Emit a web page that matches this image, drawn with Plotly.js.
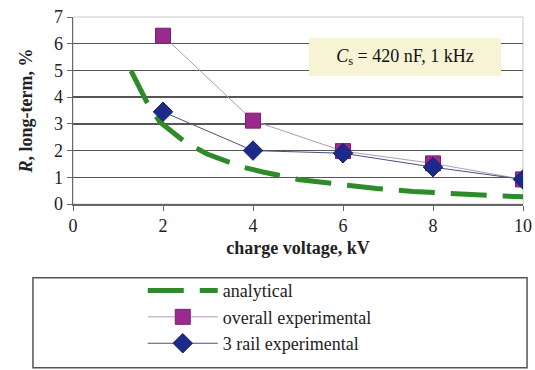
<!DOCTYPE html>
<html>
<head>
<meta charset="utf-8">
<script src="https://cdn.plot.ly/plotly-3.0.1.min.js"></script>
<style>html,body{margin:0;padding:0;background:#fff;}#chart{width:535px;height:370px;}</style>
</head>
<body>
<div id="chart"></div>
<script>
// Analytical curve
const analyticalX = [1.29, 1.64, 1.93, 2.49, 2.98, 3.75, 4.22, 5.0, 5.49, 6.27, 6.75, 7.56, 8.0, 8.82, 9.27, 10];
const analyticalY = [4.98, 3.82, 3.07, 2.32, 1.87, 1.39, 1.20, 0.92, 0.82, 0.66, 0.58, 0.47, 0.42, 0.36, 0.32, 0.27];
// Experimental series
const voltage = [2, 4, 6, 8, 10];
const overallExp = [6.3, 3.12, 1.98, 1.52, 0.92];
const rail3Exp = [3.45, 2.0, 1.9, 1.38, 0.92];
const xTicks = [0, 2, 4, 6, 8, 10];
const yTicks = [0, 1, 2, 3, 4, 5, 6, 7];
const names = ['analytical', 'overall experimental', '3 rail experimental'];

const serif = 'Liberation Serif, Times New Roman, serif';

const traces = [
  {x: analyticalX, y: analyticalY, name: names[0], mode: 'lines', line: {color: '#2f8a2a', width: 5, dash: '36px,16px'}},
  {x: voltage, y: overallExp, name: names[1], mode: 'lines+markers', line: {color: '#b49ab8', width: 1}, marker: {symbol: 'square', size: 15, color: '#9a2a8e', line: {color: '#7a2070', width: 1}}},
  {x: voltage, y: rail3Exp, name: names[2], mode: 'lines+markers', line: {color: '#4a5080', width: 1}, marker: {symbol: 'diamond', size: 15, color: '#1c2a8a', line: {color: '#15206a', width: 1}}}
];

const layout = {
  width: 535, height: 370,
  margin: {l: 73, r: 12, t: 17, b: 166, autoexpand: false},
  paper_bgcolor: '#ffffff', plot_bgcolor: '#ffffff',
  font: {family: serif, color: '#222', size: 17},
  showlegend: true,
  legend: {x: 0.155, xanchor: 'left', y: -0.365, yanchor: 'top', bgcolor: 'rgba(0,0,0,0)', borderwidth: 0,
           font: {family: serif, size: 18, color: '#222'}, itemwidth: 70, tracegroupgap: 0},
  xaxis: {range: [0, 10], tickvals: xTicks, ticktext: xTicks.map(String), showgrid: false, zeroline: false, automargin: false,
          showline: true, linecolor: '#666', linewidth: 1.5, ticks: 'outside', ticklen: 5, tickcolor: '#666',
          tickfont: {family: serif, size: 18, color: '#222'},
          title: {text: '<b>charge voltage, kV</b>', font: {family: serif, size: 18, color: '#222'}, standoff: 6}},
  yaxis: {range: [0, 7], tickvals: yTicks, ticktext: yTicks.map(String), showgrid: true, gridcolor: '#555', gridwidth: 1.5, automargin: false,
          zeroline: false, showline: true, linecolor: '#666', linewidth: 1.5, ticks: 'outside', ticklen: 5, tickcolor: '#666',
          tickfont: {family: serif, size: 18, color: '#222'},
          title: {text: '<b><i>R</i>, long-term, %</b>', font: {family: serif, size: 18, color: '#222'}, standoff: 16}},
  shapes: [
    {type: 'rect', xref: 'paper', yref: 'paper', x0: 0, x1: 1, y0: 0, y1: 1, line: {color: '#c8c8c8', width: 1}, layer: 'below'},
    {type: 'rect', xref: 'paper', yref: 'paper', x0: -0.089, x1: 1.009, y0: -0.395, y1: -0.875, line: {color: '#555', width: 1.5}, fillcolor: 'rgba(0,0,0,0)'}
  ],
  annotations: [
    {x: 7.38, y: 5.5, xref: 'x', yref: 'y', showarrow: false, text: '<i>C</i><sub>s</sub> = 420 nF, 1 kHz',
     font: {family: serif, size: 18, color: '#111'}, bgcolor: '#f6f4d4', width: 190, height: 36, borderwidth: 0}
  ]
};

Plotly.newPlot('chart', traces, layout, {displayModeBar: false, staticPlot: true});
</script>
</body>
</html>
